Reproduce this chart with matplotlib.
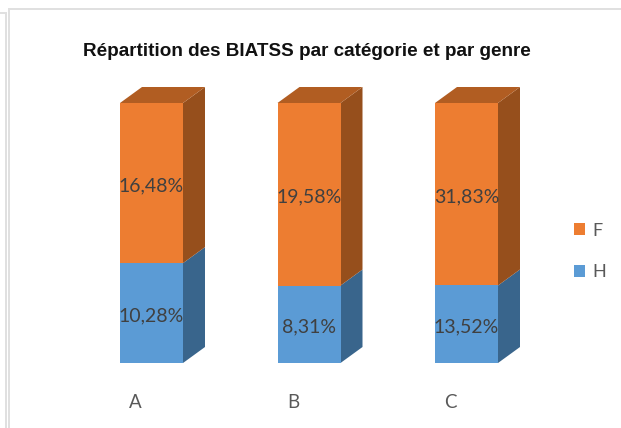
import matplotlib
matplotlib.use("Agg")
import matplotlib.pyplot as plt
from matplotlib.lines import Line2D
from matplotlib.patches import Polygon, Patch

categories = ["A", "B", "C"]
values_h = [10.28, 8.31, 13.52]
values_f = [16.48, 19.58, 31.83]
labels_h = ["10,28%", "8,31%", "13,52%"]
labels_f = ["16,48%", "19,58%", "31,83%"]
title = "Répartition des BIATSS par catégorie et par genre"

W, H = 621, 428
C_F, C_F_TOP, C_F_SIDE = "#ED7D31", "#B15D22", "#964F1C"
C_H, C_H_TOP, C_H_SIDE = "#5B9BD5", "#4479A8", "#39658C"
TXT = "#404040"
DX, DY = 22, -16  # 3D depth in pixels
FONT = "Lato"

fig = plt.figure(figsize=(W / 100, H / 100), dpi=100, facecolor="white")
L, R, T, B = 60, 560, 103, 363
ax = fig.add_axes([L / W, 1 - B / H, (R - L) / W, (B - T) / H])
c0, step, bw = 151.5, 157.5, 63
ax.set_xlim((L - c0) / step, (R - c0) / step)
ax.set_ylim(0, 100)
ax.axis("off")

dx_d = DX / step
dy_d = -DY / (B - T) * 100
w = bw / step
LBL = dict(textcoords="offset points", ha="center", va="center", color=TXT,
           fontsize=14, family=FONT, zorder=5, annotation_clip=False)

for i, (h, f) in enumerate(zip(values_h, values_f)):
    sh = h / (h + f) * 100
    x0, x1 = i - w / 2, i + w / 2
    ax.bar(i, sh, w, color=C_H, zorder=3, clip_on=False)
    ax.bar(i, 100 - sh, w, bottom=sh, color=C_F, zorder=3, clip_on=False)
    ax.add_patch(Polygon([(x1, 0), (x1 + dx_d, dy_d), (x1 + dx_d, sh + dy_d), (x1, sh)],
                         fc=C_H_SIDE, ec="none", clip_on=False, zorder=2))
    ax.add_patch(Polygon([(x1, sh), (x1 + dx_d, sh + dy_d), (x1 + dx_d, 100 + dy_d), (x1, 100)],
                         fc=C_F_SIDE, ec="none", clip_on=False, zorder=2))
    ax.add_patch(Polygon([(x0, 100), (x0 + dx_d, 100 + dy_d), (x1 + dx_d, 100 + dy_d), (x1, 100)],
                         fc=C_F_TOP, ec="none", clip_on=False, zorder=2))
    ax.annotate(labels_h[i], (i, sh / 2), xytext=(0, -2.2), **LBL)
    ax.annotate(labels_f[i], (i, sh + (100 - sh) / 2), xytext=(0, -2.2), **LBL)
    ax.annotate(categories[i], (i, 0), xytext=(-16 * 0.72, -39.5 * 0.72),
                textcoords="offset points", ha="center", va="center",
                color="#595959", fontsize=13.5, family=FONT, annotation_clip=False)

fig.text(306.5 / W, 1 - 51.5 / H, title, ha="center", va="center", color="#111111",
         fontsize=13.6, fontweight="bold", family="Liberation Sans")

handles = [Patch(fc=C_F, ec="none"), Patch(fc=C_H, ec="none")]
leg = fig.legend(handles, ["F", "H"], loc="center left", bbox_to_anchor=(574 / W, 1 - 251.5 / H),
                 frameon=False, handlelength=0.61, handleheight=0.61, handletextpad=0.38,
                 labelspacing=1.43, borderpad=0, borderaxespad=0,
                 prop={"family": FONT, "size": 13}, labelcolor="#595959")

GR = "#E0E0E0"
for xs, ys in [((8.5, 621), (8.5, 8.5)), ((8.5, 8.5), (8.5, 428)),
               ((0, 6), (12.5, 12.5)), ((6, 6), (12.5, 428))]:
    fig.add_artist(Line2D([x / W for x in xs], [1 - y / H for y in ys], color=GR, lw=1.4))

fig.savefig("out.png", dpi=100)
